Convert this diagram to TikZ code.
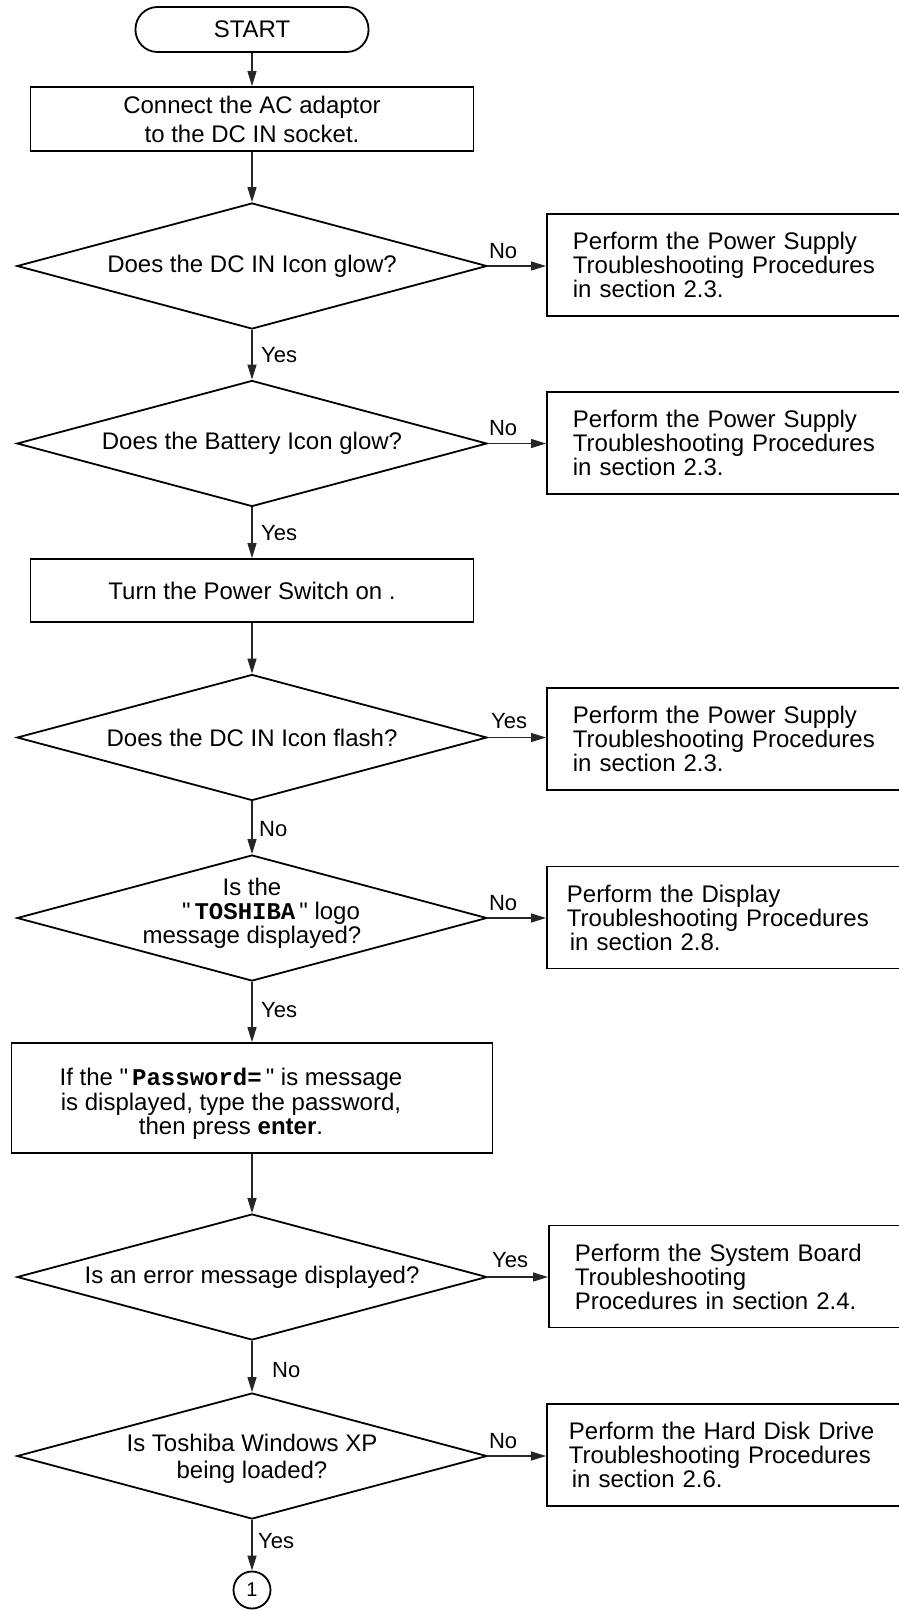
\documentclass[tikz,border=0pt]{standalone}
\usepackage{fontspec}
\setmainfont{Liberation Sans}
\newfontfamily\monofam{Liberation Mono}
\newcommand{\monob}{\monofam\bfseries}
\usetikzlibrary{shapes.geometric,arrows.meta,calc}
\begin{document}
\begin{tikzpicture}[x=1pt,y=-1pt,
  every node/.style={font=\fontsize{24}{24}\selectfont, inner sep=0pt},
  startbox/.style={draw, line width=1.8pt, rectangle, rounded corners=22pt,
    minimum width=233pt, minimum height=45pt},
  box/.style={draw, line width=1.8pt, rectangle},
  lbox/.style={box, minimum width=443pt, minimum height=64pt, align=center},
  rbox/.style={box, anchor=west, text width=310pt, inner xsep=26pt, inner ysep=0pt,
    minimum height=102pt, align=left},
  dec/.style={draw, line width=1.8pt, diamond, minimum width=470pt, minimum height=126pt, inner sep=0pt},
  dtext/.style={align=center},
  lab/.style={font=\fontsize{22}{22}\selectfont, inner sep=0pt, anchor=west},
  arr/.style={draw=black!85, line width=1.3pt, -{Triangle[length=15pt,width=9pt]}},
  conn/.style={draw, line width=1.8pt, circle, minimum size=37pt, font=\fontsize{20}{20}\selectfont}
]
\useasboundingbox (0,0) rectangle (899,1610);
\clip (0,0) rectangle (899,1610);
\fill[white] (0,0) rectangle (899,1610);

% main column
\node[startbox] (start) at (252,29.5) {START};
\node[lbox, font=\fontsize{24}{29}\selectfont] (connect) at (252,119) {Connect the AC adaptor\\to the DC IN socket.};

\node[dec] (d1) at (252,266) {};
\node[dtext] (d1t) at (d1) {Does the DC IN Icon glow?};

\node[dec] (d2) at (252,443.5) {};
\node[dtext] (d2t) at (d2) {Does the Battery Icon glow?};

\node[lbox, minimum height=63pt] (power) at (252,590.5) {Turn the Power Switch on .};

\node[dec] (d3) at (252,737.5) {};
\node[dtext] (d3t) at (d3) {Does the DC IN Icon flash?};

\node[dec] (d4) at (252,918) {};
\node[dtext] (d4t) at (252,913) {Is the\\\hspace*{38pt}\textquotedbl\,{\monob TOSHIBA}\,\textquotedbl\ logo\\message displayed?};

\node[box, minimum width=481pt, minimum height=110pt] (pw) at (252,1098) {};
\node[dtext, font=\fontsize{24}{24.5}\selectfont] (pwt) at (231,1104)
  {If the \textquotedbl\,{\monob Password=}\,\textquotedbl\ is message\\is displayed, type the password,\\then press \textbf{enter}.};

\node[dec] (d5) at (252,1277) {};
\node[dtext] (d5t) at (d5) {Is an error message displayed?};

\node[dec] (d6) at (252,1456) {};
\node[dtext, font=\fontsize{24}{27}\selectfont] (d6t) at (252,1459) {Is Toshiba Windows XP\\being loaded?};

\node[conn] (c1) at (252,1590) {1};

% right column (boxes run past the right edge of the picture)
\node[rbox] (b1) at (546,265) {Perform the Power Supply\\Troubleshooting Procedures\\in section 2.3.};
\node[rbox] (b2) at (546,443) {Perform the Power Supply\\Troubleshooting Procedures\\in section 2.3.};
\node[rbox] (b3) at (546,739) {Perform the Power Supply\\Troubleshooting Procedures\\in section 2.3.};
\node[rbox, inner xsep=20pt, text width=320pt] (b4) at (546,917.5) {Perform the Display\\Troubleshooting Procedures\\\hspace*{3pt}in section 2.8.};
\node[rbox] (b5) at (548,1276.5) {Perform the System Board\\Troubleshooting\\Procedures in section 2.4.};
\node[rbox, inner xsep=22pt, text width=316pt] (b6) at (546,1455) {Perform the Hard Disk Drive\\Troubleshooting Procedures\\\hspace*{3pt}in section 2.6.};

% vertical connectors
\draw[arr] (start.south) -- (connect.north);
\draw[arr] (connect.south) -- (d1.north);
\draw[arr] (d1.south) -- (d2.north);
\draw[arr] (d2.south) -- (power.north);
\draw[arr] (power.south) -- (d3.north);
\draw[arr] (d3.south) -- (d4.north);
\draw[arr] (d4.south) -- (pw.north);
\draw[arr] (pw.south) -- (d5.north);
\draw[arr] (d5.south) -- (d6.north);
\draw[arr] (d6.south) -- (c1.north);

% horizontal connectors
\draw[arr] (d1.east) -- (d1.east -| b1.west);
\draw[arr] (d2.east) -- (d2.east -| b2.west);
\draw[arr] (d3.east) -- (d3.east -| b3.west);
\draw[arr] (d4.east) -- (d4.east -| b4.west);
\draw[arr] (d5.east) -- (d5.east -| b5.west);
\draw[arr] (d6.east) -- (d6.east -| b6.west);

% labels on vertical connectors
\node[lab] (l1) at (261,355) {Yes};
\node[lab] (l2) at (261,533) {Yes};
\node[lab] (l3) at (259,829) {No};
\node[lab] (l4) at (261,1010) {Yes};
\node[lab] (l5) at (272,1370) {No};
\node[lab] (l6) at (258,1541) {Yes};

% labels on horizontal connectors
\node[lab] (h1) at ($(d1.east)+(1,-15)$) {No};
\node[lab] (h2) at ($(d2.east)+(1,-15)$) {No};
\node[lab] (h3) at ($(d3.east)+(3,-16)$) {Yes};
\node[lab] (h4) at ($(d4.east)+(1,-15)$) {No};
\node[lab] (h5) at ($(d5.east)+(4,-17)$) {Yes};
\node[lab] (h6) at ($(d6.east)+(1,-15)$) {No};
\end{tikzpicture}
\end{document}
